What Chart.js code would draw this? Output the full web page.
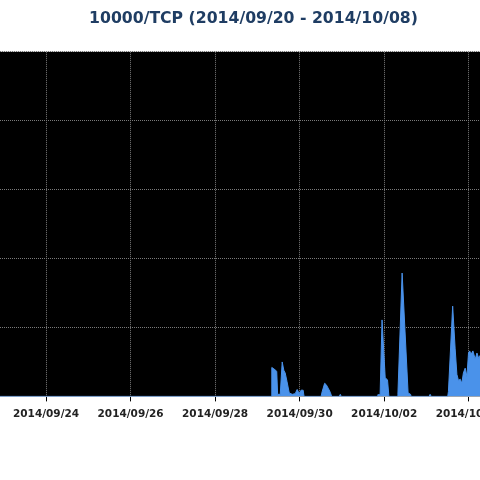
<!DOCTYPE html>
<html>
<head>
<meta charset="utf-8">
<script src="https://cdn.jsdelivr.net/npm/chart.js@4/dist/chart.umd.min.js"></script>
<style>
  html, body { margin: 0; padding: 0; background: #ffffff; overflow: hidden; width: 480px; height: 480px; }
  #wrap { position: absolute; left: -213px; top: 0; width: 931px; height: 480px; }
</style>
</head>
<body>
<div id="wrap"><canvas id="c" width="931" height="480"></canvas></div>
<script>
// Title
const chartTitle = "10000/TCP (2014/09/20 - 2014/10/08)";

// Tick labels for the x axis, every 48 hours from 2014/09/20 00:00
const tickLabels = ["2014/09/20", "2014/09/22", "2014/09/24", "2014/09/26", "2014/09/28",
                    "2014/09/30", "2014/10/02", "2014/10/04", "2014/10/06", "2014/10/08"];
const tickStepHours = 48;
const rangeEndHours = 456; // end of 2014/10/08

// Series: hours since 2014/09/20 00:00 and traffic values
const hours = [
  0, 223.8, 224.2, 226.4, 227.0, 227.5, 229.0, 230.1, 231.0, 231.8, 232.8, 234.1, 235.8, 237.5, 238.6, 239.8, 240.8, 242.0, 242.5,
  252.2, 252.8, 254.2, 255.1, 256.2, 257.4, 258.2, 262.5, 263.1, 263.6,
  284.0, 284.4, 285.7, 286.8, 288.6, 289.9, 290.7,
  295.4, 295.8, 298.2, 301.6, 303.0, 303.3, 313.5, 314.1, 314.7,
  324.1, 324.5, 326.9, 328.3, 329.3, 330.2, 331.2, 332.1, 333.0, 334.0, 335.0, 335.9, 336.6, 337.3, 338.4, 339.7, 340.7, 341.7, 342.6,
  345.4, 349.3, 353.9, 357.0, 456
];
const values = [
  0, 0, 4.2, 3.8, 3.6, 0.3, 0.3, 5.0, 3.8, 3.4, 2.2, 0.5, 0.3, 0.4, 1.0, 0.4, 0.9, 0.9, 0,
  0, 0.7, 1.9, 1.7, 1.2, 0.6, 0, 0, 0.3, 0,
  0, 0.25, 0.25, 11.1, 2.7, 2.4, 0,
  0, 0.3, 17.9, 0.5, 0.3, 0, 0, 0.3, 0,
  0, 0.7, 13.1, 7.0, 3.2, 2.3, 2.5, 1.9, 3.4, 4.1, 2.9, 6.3, 6.6, 6.1, 6.6, 5.4, 6.3, 5.5, 6.0,
  5.7, 4.8, 3.4, 0, 0
];

// Y axis ticks
const yMax = 50;
const yStep = 10;

const points = hours.map((h, i) => ({ x: h, y: values[i] }));

const blackArea = {
  id: 'blackArea',
  beforeDraw(chart) {
    const { ctx, chartArea } = chart;
    ctx.save();
    ctx.fillStyle = '#000000';
    ctx.fillRect(chartArea.left, chartArea.top, chartArea.right - chartArea.left, chartArea.bottom - chartArea.top);
    ctx.restore();
  }
};

new Chart(document.getElementById('c'), {
  type: 'line',
  data: {
    datasets: [{
      data: points,
      borderColor: '#4a92ea',
      backgroundColor: '#4a92ea',
      borderWidth: 1,
      fill: 'origin',
      pointRadius: 0,
      tension: 0
    }]
  },
  plugins: [blackArea],
  options: {
    responsive: false,
    animation: false,
    devicePixelRatio: 1,
    layout: { padding: { left: 40, right: 38, top: 0, bottom: 52 } },
    plugins: {
      legend: { display: false },
      tooltip: { enabled: false },
      title: {
        display: true,
        text: chartTitle,
        color: '#1f3d63',
        font: { family: 'DejaVu Sans', size: 15.7, weight: 'bold' },
        padding: { top: 10, bottom: 23 }
      }
    },
    scales: {
      x: {
        type: 'linear',
        min: 0,
        max: rangeEndHours,
        afterBuildTicks(scale) {
          scale.ticks = tickLabels.map((_, i) => ({ value: i * tickStepHours }));
        },
        ticks: {
          color: '#222222',
          font: { family: 'DejaVu Sans', size: 10.5, weight: 'bold' },
          padding: 7,
          maxRotation: 0,
          autoSkip: false,
          callback: (v) => tickLabels[Math.round(v / tickStepHours)]
        },
        grid: {
          color: '#7a7a7a',
          lineWidth: 1,
          drawTicks: true,
          tickLength: 5,
          tickColor: '#000000',
          tickBorderDash: []
        },
        border: { display: true, color: '#aaaaaa', width: 1, dash: [1, 1] }
      },
      y: {
        min: 0,
        max: yMax,
        afterFit(scale) { scale.width = 50; },
        ticks: {
          stepSize: yStep,
          color: '#222222',
          font: { family: 'DejaVu Sans', size: 10.5, weight: 'bold' }
        },
        grid: {
          color: '#7a7a7a',
          lineWidth: 1,
          drawTicks: true,
          tickLength: 5,
          tickColor: '#000000'
        },
        border: { display: true, color: '#aaaaaa', width: 1, dash: [1, 1] }
      }
    }
  }
});
</script>
</body>
</html>
